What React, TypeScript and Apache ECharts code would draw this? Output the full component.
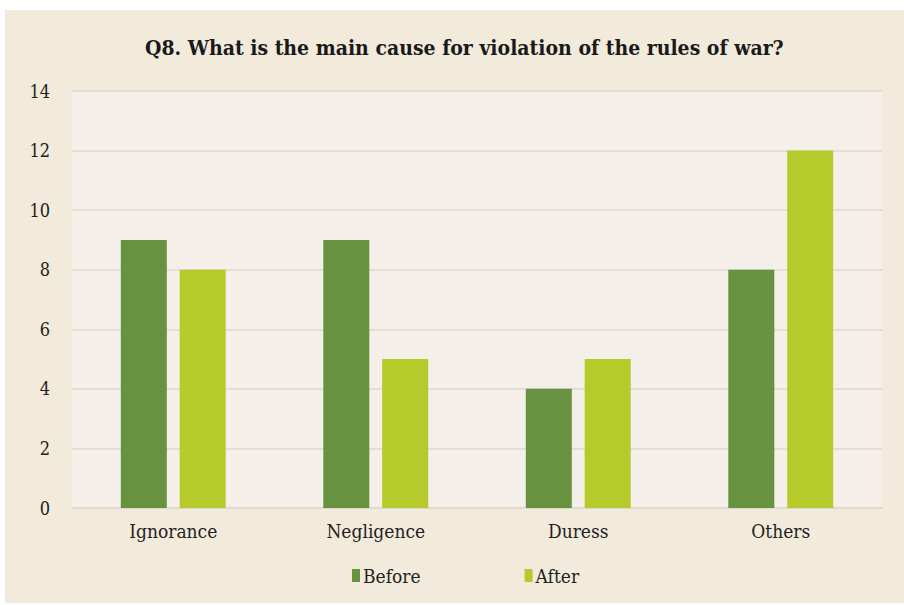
import React, { useEffect, useRef } from "react";
import * as echarts from "echarts";

const categories = ["Ignorance", "Negligence", "Duress", "Others"];
const beforeValues = [9, 9, 4, 8];
const afterValues = [8, 5, 5, 12];
const seriesNames = ["Before", "After"];
const titleText = "Q8. What is the main cause for violation of the rules of war?";

export default function App() {
  const ref = useRef<HTMLDivElement>(null);
  useEffect(() => {
    if (!ref.current) return;
    const chart = echarts.init(ref.current, null, { renderer: "svg" });
    const font = "'DejaVu Serif Condensed', 'DejaVu Serif', serif";
    chart.setOption({
      animation: false,
      backgroundColor: "#ffffff",
      graphic: [
        {
          type: "rect",
          z: -10,
          shape: { x: 5, y: 10, width: 899, height: 593 },
          style: { fill: "#f2eadb" },
          silent: true,
        },
      ],
      title: {
        text: titleText,
        left: 140,
        top: 32,
        textStyle: {
          fontFamily: font,
          fontWeight: "bold",
          fontSize: 21,
          color: "#1a1a1a",
        },
      },
      legend: {
        data: seriesNames,
        bottom: 15,
        left: 347,
        itemWidth: 8,
        itemHeight: 13,
        itemGap: 104,
        icon: "rect",
        textStyle: { fontFamily: font, fontSize: 19, color: "#222", padding: [0, 0, 0, -2] },
      },
      grid: {
        left: 72,
        right: 22,
        top: 91,
        bottom: 97,
        show: true,
        backgroundColor: "#f4efe8",
        borderWidth: 0,
      },
      xAxis: {
        type: "category",
        data: categories,
        axisTick: { show: false },
        axisLine: { lineStyle: { color: "#ddd8d0", width: 1.5 } },
        axisLabel: { fontFamily: font, fontSize: 19, color: "#222", margin: 13 },
      },
      yAxis: {
        type: "value",
        min: 0,
        max: 14,
        interval: 2,
        axisLine: { show: false },
        axisTick: { show: false },
        splitLine: { lineStyle: { color: "#e2ddd5", width: 2 } },
        axisLabel: { fontFamily: font, fontSize: 18, color: "#222", margin: 22 },
      },
      series: [
        {
          name: seriesNames[0],
          type: "bar",
          data: beforeValues,
          barWidth: 46,
          barGap: "28%",
          itemStyle: { color: "#67923f" },
        },
        {
          name: seriesNames[1],
          type: "bar",
          data: afterValues,
          barWidth: 46,
          itemStyle: { color: "#b5cb2b" },
        },
      ],
    });
    return () => chart.dispose();
  }, []);
  return (
    <div
      ref={ref}
      style={{ position: "fixed", left: 0, top: 0, width: 904, height: 605 }}
    />
  );
}
